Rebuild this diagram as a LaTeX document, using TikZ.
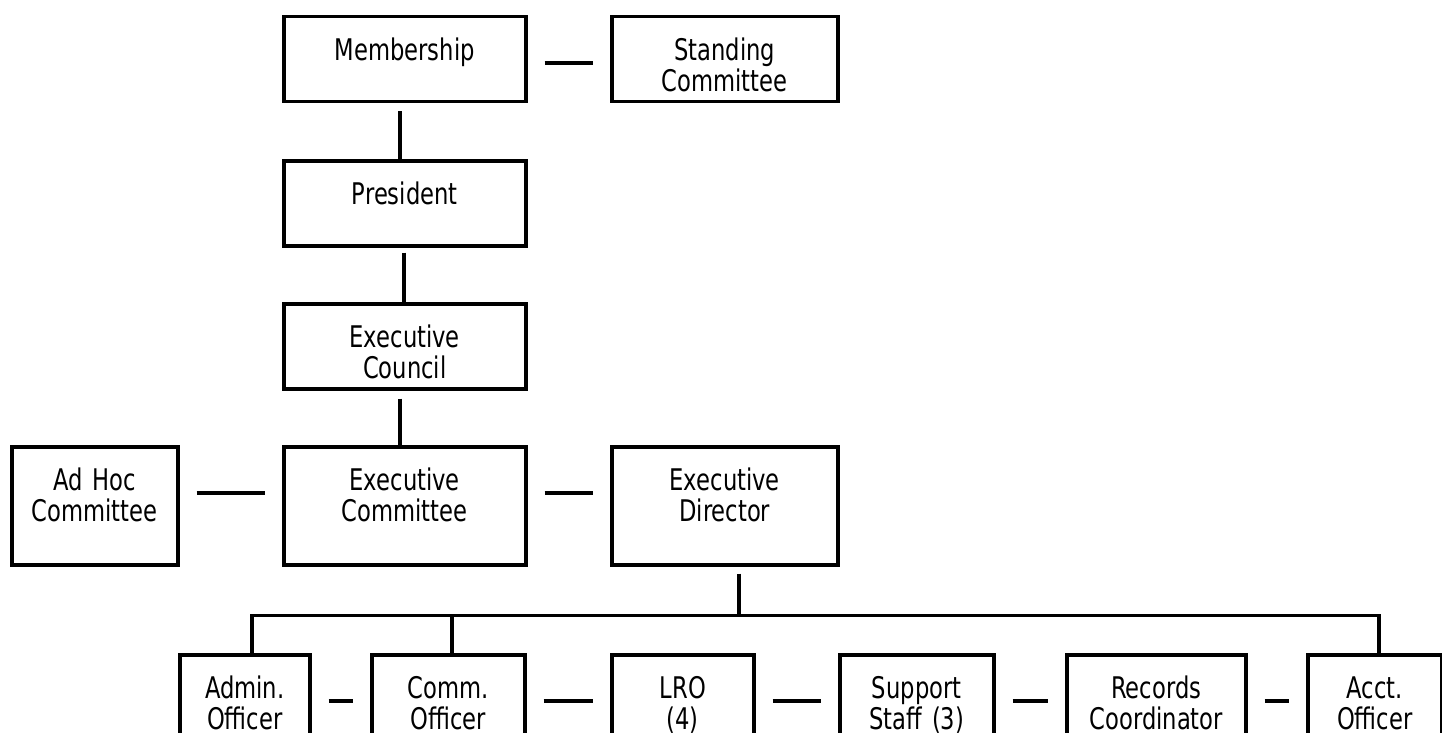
\documentclass[tikz,border=0pt]{standalone}
\usepackage{fontspec}
\setmainfont{DejaVu Sans}[FakeStretch=0.76]
\begin{document}
\begin{tikzpicture}[x=1pt,y=-1pt,line width=3.5pt,
		unit/.style={draw,anchor=north west,inner xsep=0pt,inner ysep=0pt,align=center,
			text height=44pt,text depth=41pt,font=\fontsize{29.8}{31}\selectfont},
		tall/.style={text depth=74pt},
		link/.style={shorten <=17pt,shorten >=17pt}]
	\useasboundingbox (0,0) rectangle (1442,733);
	\clip (0,0) rectangle (1442,733);
	\node[unit,text width=242pt] (memb) at (282,15) {Membership};
	\node[unit,text width=226pt] (stand) at (610,15) {Standing\\Committee};
	\node[unit,text width=242pt] (pres) at (282,159) {President};
	\node[unit,text width=242pt] (counc) at (282,302) {Executive\\Council};
	\node[unit,tall,text width=166pt] (adhoc) at (10,445) {Ad Hoc\\Committee};
	\node[unit,tall,text width=242pt] (excom) at (282,445) {Executive\\Committee};
	\node[unit,tall,text width=226pt] (exdir) at (610,445) {Executive\\Director};
	\node[unit,tall,text width=130pt] (admin) at (178,653) {Admin.\\Officer};
	\node[unit,tall,text width=153pt] (comm) at (370,653) {Comm.\\Officer};
	\node[unit,tall,text width=142pt] (lro) at (610,653) {LRO\\(4)};
	\node[unit,tall,text width=154pt] (staff) at (838,653) {Support\\Staff (3)};
	\node[unit,tall,text width=179pt] (rec) at (1065,653) {Records\\Coordinator};
	\node[unit,tall,text width=134pt] (acct) at (1306,653) {Acct.\\Officer};
	\coordinate (bus) at ([xshift=14pt,yshift=-49pt]exdir.south);
	\draw[link] ([yshift=-48pt]memb.north east) -- ([yshift=-48pt]stand.north west);
	\draw[link] ([yshift=-48pt]adhoc.north east) -- ([yshift=-48pt]excom.north west);
	\draw[link] ([yshift=-48pt]excom.north east) -- ([yshift=-48pt]exdir.north west);
	\draw[link] ([yshift=-48pt]admin.north east) -- ([yshift=-48pt]comm.north west);
	\draw[link] ([yshift=-48pt]comm.north east) -- ([yshift=-48pt]lro.north west);
	\draw[link] ([yshift=-48pt]lro.north east) -- ([yshift=-48pt]staff.north west);
	\draw[link] ([yshift=-48pt]staff.north east) -- ([yshift=-48pt]rec.north west);
	\draw[link] ([yshift=-48pt]rec.north east) -- ([yshift=-48pt]acct.north west);
	\draw ([xshift=-5pt,yshift=-8pt]memb.south) -- ([xshift=-5pt]pres.north);
	\draw ([xshift=-1pt,yshift=-5pt]pres.south) -- ([xshift=-1pt]counc.north);
	\draw ([xshift=-5pt,yshift=-8pt]counc.south) -- ([xshift=-5pt]excom.north);
	\draw ([xshift=14pt,yshift=-7pt]exdir.south) -- (bus);
	\draw ([xshift=7pt]admin.north) |- (bus) -| ([xshift=4pt]acct.north);
	\draw ([xshift=3.5pt]comm.north) -- ([xshift=3.5pt]comm.north |- bus);
\end{tikzpicture}
\end{document}
